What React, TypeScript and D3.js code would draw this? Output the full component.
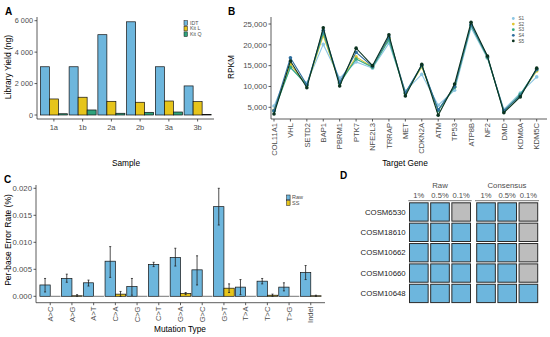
import * as d3 from "d3";

const FONT = "'Liberation Sans', Arial, Helvetica, sans-serif";
const BLUE = "#6db6dd";
const YELLOW = "#e6c41b";
const GREEN = "#2fa37d";
const GREY_CELL = "#bdbdbd";
const TICK = "#4d4d4d";
const AXIS = "#333333";

// Panel A: library yield
const samples = ["1a", "1b", "2a", "2b", "3a", "3b"];
const kits = ["IDT", "Kit L", "Kit Q"];
const kitColors = [BLUE, YELLOW, GREEN];
const idtYield = [3070, 3070, 5110, 5930, 3070, 1850];
const kitLYield = [1020, 1130, 870, 810, 890, 850];
const kitQYield = [80, 320, 110, 170, 190, 40];
const yieldTicks = [0, 2000, 4000, 6000];

// Panel B: RPKM per target gene
const genes = [
  "COL11A1", "VHL", "SETD2", "BAP1", "PBRM1", "PTK7", "NFE2L3", "TRRAP", "MET",
  "CDKN2A", "ATM", "TP53", "ATP8B", "NF2", "DMD", "KDM6A", "KDM5C",
];
const sampleNames = ["S1", "S2", "S3", "S4", "S5"];
const sampleColors = ["#8cc6e3", "#e0c630", "#35a882", "#2e6e9e", "#0b3320"];
const s1 = [5300, 14500, 10800, 20100, 12000, 15900, 14400, 20400, 8900, 12900, 5500, 9100, 24100, 16800, 4500, 8400, 12300];
const s2 = [4300, 15300, 10300, 22200, 10900, 17100, 14700, 21600, 8400, 14700, 4300, 9900, 24800, 17100, 4100, 7900, 13700];
const s3 = [4100, 14600, 10300, 22800, 10800, 16600, 14600, 21200, 8300, 15000, 4200, 9800, 24700, 17000, 4000, 8100, 14000];
const s4 = [4200, 16900, 10400, 23500, 11000, 18200, 14800, 21900, 8500, 15100, 4400, 10000, 24900, 17200, 4200, 7800, 14100];
const s5 = [3400, 16100, 9700, 24100, 10100, 19200, 15000, 22400, 7700, 15300, 3100, 10600, 25400, 17300, 3700, 7500, 14400];
const rpkmTicks = [5000, 10000, 15000, 20000, 25000];

// Panel C: per-base error rate
const mutations = ["A>C", "A>G", "A>T", "C>A", "C>G", "C>T", "G>A", "G>C", "G>T", "T>A", "T>C", "T>G", "Indel"];
const rawRate = [0.0021, 0.0033, 0.0025, 0.0065, 0.0018, 0.0059, 0.0072, 0.0049, 0.0166, 0.0017, 0.0028, 0.0017, 0.0044];
const rawLo = [0.0008, 0.0026, 0.0019, 0.0035, 0.0002, 0.0055, 0.0056, 0.0021, 0.0132, 0.0003, 0.0023, 0.001, 0.0031];
const rawHi = [0.0033, 0.0041, 0.003, 0.0092, 0.0033, 0.0063, 0.0089, 0.0075, 0.02, 0.0031, 0.0033, 0.0025, 0.0057];
const ssRate = [0, 0.0001, 0, 0.0004, 0, 0, 0.0005, 0, 0.0015, 0, 0.0002, 0, 0.0001];
const ssLo = [0, 0, 0, 0, 0, 0, 0.0003, 0, 0.0007, 0, 0, 0, 0];
const ssHi = [0, 0.0003, 0, 0.0009, 0, 0, 0.0007, 0, 0.0023, 0, 0.0004, 0, 0.0002];
const rateTicks = [0, 0.005, 0.01, 0.015, 0.02];

// Panel D: detection grid
const cosmics = ["COSM6530", "COSM18610", "COSM10662", "COSM10660", "COSM10648"];
const levels = ["1%", "0.5%", "0.1%"];
const rawDetected = [[1, 1, 0], [1, 1, 1], [1, 1, 1], [1, 1, 1], [1, 1, 1]];
const consDetected = [[1, 1, 0], [1, 1, 0], [1, 1, 0], [1, 1, 0], [1, 1, 1]];

const spaceFmt = (v: number) => d3.format(",")(v).replace(",", " ");

const PanelA = () => {
  const x = d3.scaleBand().domain(samples).range([37.5, 214]).paddingInner(0.06).paddingOuter(0.1);
  const xs = d3.scaleBand().domain(kits).range([0, x.bandwidth()]);
  const y = d3.scaleLinear().domain([0, 6000]).range([115, 20.7]);
  const series = [idtYield, kitLYield, kitQYield];
  return (
    <g>
      <text x={5} y={15} fontSize={10} fontWeight="bold">A</text>
      {series.map((vals, k) =>
        samples.map((s, i) => (
          <rect key={`${k}-${i}`} x={(x(s) ?? 0) + (xs(kits[k]) ?? 0)} y={y(vals[i])}
            width={xs.bandwidth()} height={y(0) - y(vals[i])}
            fill={kitColors[k]} stroke="#111" strokeWidth={0.7} />
        ))
      )}
      <line x1={37} x2={37} y1={17} y2={119} stroke={AXIS} strokeWidth={0.8} />
      <line x1={37} x2={214} y1={119} y2={119} stroke={AXIS} strokeWidth={0.8} />
      {yieldTicks.map((t) => (
        <g key={t}>
          <line x1={34.5} x2={37} y1={y(t)} y2={y(t)} stroke={AXIS} strokeWidth={0.8} />
          <text x={33} y={y(t)} dy="0.35em" textAnchor="end" fontSize={7.3} fill={TICK}>{spaceFmt(t)}</text>
        </g>
      ))}
      {samples.map((s) => {
        const cx = (x(s) ?? 0) + x.bandwidth() / 2;
        return (
          <g key={s}>
            <line x1={cx} x2={cx} y1={119} y2={121.5} stroke={AXIS} strokeWidth={0.8} />
            <text x={cx} y={129.5} textAnchor="middle" fontSize={7.5} fill={TICK}>{s}</text>
          </g>
        );
      })}
      <text transform="translate(11,67) rotate(-90)" textAnchor="middle" fontSize={8.5}>Library Yield (ng)</text>
      <text x={126} y={166} textAnchor="middle" fontSize={8.3}>Sample</text>
      {kits.map((k, i) => (
        <g key={k}>
          <rect x={184} y={20.7 + i * 5.6} width={3.4} height={4.6} fill={kitColors[i]} stroke="#111" strokeWidth={0.5} />
          <text x={190} y={23 + i * 5.6} dy="0.35em" fontSize={5.2} fill={TICK}>{k}</text>
        </g>
      ))}
    </g>
  );
};

const PanelB = () => {
  const x = d3.scalePoint().domain(genes).range([274, 536.7]);
  const y = d3.scaleLinear().domain([5000, 25000]).range([107.3, 24]);
  const series = [s1, s2, s3, s4, s5];
  const line = d3.line<number>().x((_, i) => x(genes[i]) ?? 0).y((d) => y(d));
  return (
    <g>
      <text x={228} y={15} fontSize={10} fontWeight="bold">B</text>
      {series.map((vals, k) => (
        <g key={k}>
          <path d={line(vals) ?? ""} fill="none" stroke={sampleColors[k]} strokeWidth={1.1} />
          {vals.map((v, i) => (
            <circle key={i} cx={x(genes[i])} cy={y(v)} r={1.8} fill={sampleColors[k]} />
          ))}
        </g>
      ))}
      <line x1={271} x2={271} y1={17} y2={119} stroke={AXIS} strokeWidth={0.8} />
      <line x1={271} x2={547} y1={119} y2={119} stroke={AXIS} strokeWidth={0.8} />
      {rpkmTicks.map((t) => (
        <g key={t}>
          <line x1={268.5} x2={271} y1={y(t)} y2={y(t)} stroke={AXIS} strokeWidth={0.8} />
          <text x={267} y={y(t)} dy="0.35em" textAnchor="end" fontSize={7.8} fill={TICK}>{d3.format(",")(t)}</text>
        </g>
      ))}
      {genes.map((g) => {
        const cx = x(g) ?? 0;
        return (
          <g key={g}>
            <line x1={cx} x2={cx} y1={119} y2={121.5} stroke={AXIS} strokeWidth={0.8} />
            <text transform={`translate(${cx},123) rotate(-90)`} dy="0.35em" textAnchor="end" fontSize={7.6} fill={TICK}>{g}</text>
          </g>
        );
      })}
      <text transform="translate(234,67) rotate(-90)" textAnchor="middle" fontSize={8.3}>RPKM</text>
      <text x={405} y={166} textAnchor="middle" fontSize={8.3}>Target Gene</text>
      {sampleNames.map((s, i) => (
        <g key={s}>
          <circle cx={513.3} cy={18.5 + i * 5.6} r={1.4} fill={sampleColors[i]} />
          <text x={518.5} y={18.5 + i * 5.6} dy="0.35em" fontSize={4.6} fill={TICK}>{s}</text>
        </g>
      ))}
    </g>
  );
};

const PanelC = () => {
  const x = d3.scaleBand().domain(mutations).range([36, 325]).paddingInner(0.05).paddingOuter(0.18);
  const xs = d3.scaleBand().domain(["Raw", "SS"]).range([0, x.bandwidth()]);
  const y = d3.scaleLinear().domain([0, 0.02]).range([296.3, 188.3]);
  const groups = [
    { key: "Raw", vals: rawRate, lo: rawLo, hi: rawHi, color: BLUE },
    { key: "SS", vals: ssRate, lo: ssLo, hi: ssHi, color: YELLOW },
  ];
  return (
    <g>
      <text x={4} y={183} fontSize={10} fontWeight="bold">C</text>
      {groups.map((gr) =>
        mutations.map((m, i) => {
          const bx = (x(m) ?? 0) + (xs(gr.key) ?? 0);
          const cx = bx + xs.bandwidth() / 2;
          const v = gr.vals[i];
          return (
            <g key={`${gr.key}-${m}`}>
              {v > 0 ? (
                <rect x={bx} y={y(v)} width={xs.bandwidth()} height={y(0) - y(v)} fill={gr.color} stroke="#111" strokeWidth={0.7} />
              ) : (
                <line x1={bx} x2={bx + xs.bandwidth()} y1={y(0)} y2={y(0)} stroke="#666" strokeWidth={0.9} />
              )}
              {gr.hi[i] > v && (
                <g stroke="#222" strokeWidth={0.8}>
                  <line x1={cx} x2={cx} y1={y(gr.lo[i])} y2={y(gr.hi[i])} />
                  <line x1={cx - 1} x2={cx + 1} y1={y(gr.lo[i])} y2={y(gr.lo[i])} />
                  <line x1={cx - 1} x2={cx + 1} y1={y(gr.hi[i])} y2={y(gr.hi[i])} />
                </g>
              )}
            </g>
          );
        })
      )}
      <line x1={36} x2={36} y1={185} y2={302.7} stroke={AXIS} strokeWidth={0.8} />
      <line x1={36} x2={325} y1={302.7} y2={302.7} stroke={AXIS} strokeWidth={0.8} />
      {rateTicks.map((t) => (
        <g key={t}>
          <line x1={33.5} x2={36} y1={y(t)} y2={y(t)} stroke={AXIS} strokeWidth={0.8} />
          <text x={32} y={y(t)} dy="0.35em" textAnchor="end" fontSize={7.8} fill={TICK}>{d3.format(".3f")(t)}</text>
        </g>
      ))}
      {mutations.map((m) => {
        const cx = (x(m) ?? 0) + x.bandwidth() / 2;
        return (
          <g key={m}>
            <line x1={cx} x2={cx} y1={302.7} y2={305.2} stroke={AXIS} strokeWidth={0.8} />
            <text transform={`translate(${cx},306.5) rotate(-90)`} dy="0.35em" textAnchor="end" fontSize={7.6} fill={TICK}>{m}</text>
          </g>
        );
      })}
      <text transform="translate(11,240) rotate(-90)" textAnchor="middle" fontSize={8.5}>Per-base Error Rate (%)</text>
      <text x={180} y={332} textAnchor="middle" fontSize={8.3}>Mutation Type</text>
      {groups.map((gr, i) => (
        <g key={gr.key}>
          <rect x={286.7} y={195 + i * 5.6} width={3.4} height={4.8} fill={gr.color} stroke="#111" strokeWidth={0.5} />
          <text x={292} y={197.4 + i * 5.6} dy="0.35em" fontSize={5.5} fill={TICK}>{gr.key}</text>
        </g>
      ))}
    </g>
  );
};

const PanelD = () => {
  const rows = d3.scaleBand().domain(cosmics).range([202.2, 303.2]).paddingInner(0.1).paddingOuter(0.03);
  const raw = d3.scaleBand().domain(levels).range([409.5, 470.5]).paddingInner(0.12);
  const cons = d3.scaleBand().domain(levels).range([476.7, 537.7]).paddingInner(0.12);
  const blocks = [
    { title: "Raw", scale: raw, data: rawDetected, x0: 408.3, x1: 471.7 },
    { title: "Consensus", scale: cons, data: consDetected, x0: 475, x1: 539 },
  ];
  return (
    <g>
      <text x={340} y={179} fontSize={10} fontWeight="bold">D</text>
      {blocks.map((b) => (
        <g key={b.title}>
          <text x={(b.x0 + b.x1) / 2} y={188} textAnchor="middle" fontSize={7.8} fill={TICK}>{b.title}</text>
          {levels.map((l) => (
            <text key={l} x={(b.scale(l) ?? 0) + b.scale.bandwidth() / 2} y={198.3} textAnchor="middle" fontSize={7.6} fill={TICK}>{l}</text>
          ))}
          <line x1={b.x0} x2={b.x1} y1={200.7} y2={200.7} stroke="#555" strokeWidth={0.8} />
          {cosmics.map((c, r) =>
            levels.map((l, j) => (
              <rect key={`${c}-${l}`} x={b.scale(l)} y={rows(c)} width={b.scale.bandwidth()} height={rows.bandwidth()}
                fill={b.data[r][j] ? BLUE : GREY_CELL} stroke="#2b2b2b" strokeWidth={1} />
            ))
          )}
        </g>
      ))}
      {cosmics.map((c) => (
        <text key={c} x={405.7} y={(rows(c) ?? 0) + rows.bandwidth() / 2} dy="0.35em" textAnchor="end" fontSize={7.8} fill="#222">{c}</text>
      ))}
    </g>
  );
};

export default function App() {
  return (
    <div style={{ position: "absolute", left: 0, top: 0 }}>
      <svg width={550} height={337} style={{ display: "block", background: "#fff", fontFamily: FONT }}>
        <PanelA />
        <PanelB />
        <PanelC />
        <PanelD />
      </svg>
    </div>
  );
}
